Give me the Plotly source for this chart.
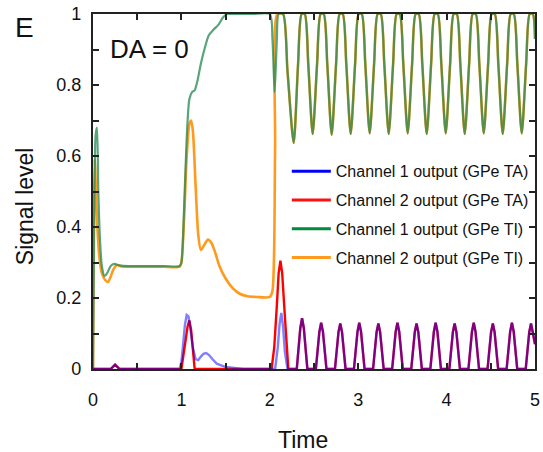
import plotly.graph_objects as go

# ---------------- data ----------------
# shared oscillation of the GPe TI outputs (t >= 2.27)
ti_osc_t = [2.27, 2.32, 2.36, 2.395, 2.435,
            2.485, 2.535, 2.575, 2.61, 2.65,
            2.70, 2.75, 2.79, 2.825, 2.865,
            2.915, 2.965, 3.005, 3.04, 3.08,
            3.13, 3.18, 3.22, 3.255, 3.295,
            3.345, 3.395, 3.435, 3.47, 3.51,
            3.56, 3.61, 3.65, 3.685, 3.725,
            3.775, 3.825, 3.865, 3.90, 3.94,
            3.99, 4.04, 4.08, 4.115, 4.155,
            4.205, 4.255, 4.295, 4.33, 4.37,
            4.42, 4.47, 4.51, 4.545, 4.585,
            4.635, 4.685, 4.725, 4.76, 4.80,
            4.85, 4.90, 4.94, 4.975, 5.0]
ti_osc_y = [0.637, 0.86, 1.0, 1.0, 0.86,
            0.662, 0.86, 1.0, 1.0, 0.86,
            0.660, 0.86, 1.0, 1.0, 0.86,
            0.662, 0.86, 1.0, 1.0, 0.86,
            0.664, 0.86, 1.0, 1.0, 0.86,
            0.662, 0.86, 1.0, 1.0, 0.86,
            0.664, 0.86, 1.0, 1.0, 0.86,
            0.662, 0.86, 1.0, 1.0, 0.86,
            0.664, 0.86, 1.0, 1.0, 0.86,
            0.662, 0.86, 1.0, 1.0, 0.86,
            0.664, 0.86, 1.0, 1.0, 0.86,
            0.662, 0.86, 1.0, 1.0, 0.86,
            0.664, 0.86, 1.0, 1.0, 0.93]

# Channel 1 output (GPe TI) before the oscillation
ti1_t = [0, 0.01, 0.03, 0.045, 0.06, 0.08, 0.1, 0.13, 0.16, 0.2, 0.24, 0.3, 0.4,
         0.6, 0.8, 0.98, 1.0, 1.03, 1.06, 1.09, 1.12, 1.15, 1.18, 1.22, 1.26,
         1.31, 1.36, 1.42, 1.47, 1.52, 1.6, 1.8, 2.0, 2.03, 2.055, 2.08, 2.1,
         2.15, 2.2]
ti1_y = [0, 0.3, 0.66, 0.68, 0.5, 0.36, 0.29, 0.262, 0.27, 0.29, 0.296, 0.292, 0.29,
         0.29, 0.29, 0.29, 0.3, 0.45, 0.65, 0.76, 0.78, 0.785, 0.81, 0.86, 0.9,
         0.94, 0.955, 0.97, 0.99, 1.0, 1.0, 1.0, 1.0, 0.93, 0.78, 0.93, 1.0,
         1.0, 0.84]

# Channel 2 output (GPe TI) before the oscillation
ti2_t = [0, 0.005, 0.02, 0.04, 0.07, 0.1, 0.14, 0.17, 0.2, 0.23, 0.27, 0.32, 0.4,
         0.6, 0.8, 0.98, 1.0, 1.03, 1.06, 1.09, 1.11, 1.13, 1.16, 1.19, 1.22,
         1.26, 1.3, 1.34, 1.38, 1.43, 1.5, 1.58, 1.66, 1.75, 1.85, 2.0, 2.03,
         2.06, 2.085, 2.15, 2.2]
ti2_y = [0, 0.3, 0.59, 0.45, 0.32, 0.27, 0.25, 0.245, 0.26, 0.28, 0.293, 0.289, 0.288,
         0.288, 0.288, 0.288, 0.3, 0.42, 0.6, 0.69, 0.70, 0.67, 0.52, 0.38, 0.335,
         0.35, 0.365, 0.355, 0.33, 0.29, 0.255, 0.228, 0.212, 0.205, 0.203, 0.203, 0.22,
         0.62, 1.0, 1.0, 0.84]

# shared pulse train of the GPe TA outputs (t >= 2.3)
ta_pulse_t = [2.305, 2.345, 2.365, 2.385, 2.425,
              2.521, 2.561, 2.581, 2.601, 2.641,
              2.737, 2.777, 2.797, 2.817, 2.857,
              2.952, 2.992, 3.012, 3.032, 3.072,
              3.168, 3.208, 3.228, 3.248, 3.288,
              3.384, 3.424, 3.444, 3.464, 3.504,
              3.600, 3.640, 3.660, 3.680, 3.720,
              3.816, 3.856, 3.876, 3.896, 3.936,
              4.031, 4.071, 4.091, 4.111, 4.151,
              4.247, 4.287, 4.307, 4.327, 4.367,
              4.463, 4.503, 4.523, 4.543, 4.583,
              4.679, 4.719, 4.739, 4.759, 4.799,
              4.895, 4.935, 4.955, 4.975, 5.0]
ta_pulse_y = [0, 0.115, 0.143, 0.115, 0,
              0, 0.105, 0.130, 0.105, 0,
              0, 0.104, 0.128, 0.104, 0,
              0, 0.105, 0.130, 0.105, 0,
              0, 0.104, 0.128, 0.104, 0,
              0, 0.105, 0.130, 0.105, 0,
              0, 0.104, 0.128, 0.104, 0,
              0, 0.105, 0.130, 0.105, 0,
              0, 0.104, 0.128, 0.104, 0,
              0, 0.105, 0.130, 0.105, 0,
              0, 0.104, 0.128, 0.104, 0,
              0, 0.105, 0.130, 0.105, 0,
              0, 0.104, 0.128, 0.104, 0.07]

# Channel 1 output (GPe TA) before the pulse train
ta1_t = [0, 0.2, 0.25, 0.3, 0.98, 1.0, 1.02, 1.04, 1.06, 1.08, 1.1, 1.13, 1.16,
         1.19, 1.22, 1.25, 1.28, 1.31, 1.35, 1.4, 1.45, 1.5, 1.6, 1.7, 2.06,
         2.09, 2.11, 2.13, 2.15, 2.17, 2.2]
ta1_y = [0, 0, 0.012, 0, 0, 0.02, 0.07, 0.125, 0.152, 0.148, 0.115, 0.06, 0.028,
         0.025, 0.035, 0.043, 0.045, 0.04, 0.028, 0.015, 0.01, 0.006, 0.003, 0, 0,
         0.06, 0.125, 0.158, 0.12, 0.05, 0]

# Channel 2 output (GPe TA) before the pulse train
ta2_t = [0, 0.2, 0.25, 0.3, 1.0, 1.02, 1.05, 1.07, 1.09, 1.11, 1.13, 1.15, 2.02,
         2.05, 2.08, 2.1, 2.12, 2.14, 2.17, 2.19, 2.21]
ta2_y = [0, 0, 0.012, 0, 0, 0.04, 0.085, 0.12, 0.137, 0.11, 0.05, 0, 0,
         0.06, 0.18, 0.27, 0.305, 0.27, 0.15, 0.06, 0]

legend_names = ["Channel 1 output (GPe TA)", "Channel 2 output (GPe TA)",
                "Channel 1 output (GPe TI)", "Channel 2 output (GPe TI)"]
legend_colors = ["#0000ff", "#ff1010", "#008a3c", "#ff9a1f"]

x_ticks = [0, 1, 2, 3, 4, 5]
y_ticks = [0, 0.2, 0.4, 0.6, 0.8, 1]

FONT = "Liberation Sans, Arial, sans-serif"

fig = go.Figure()

# data traces (drawing order: orange, green, red, blue)
fig.add_trace(go.Scatter(x=ti2_t + ti_osc_t, y=ti2_y + ti_osc_y, mode="lines",
                         line=dict(color="#ff9a1f", width=2.6, shape="spline", smoothing=0.7),
                         showlegend=False, hoverinfo="skip"))
fig.add_trace(go.Scatter(x=ti1_t + ti_osc_t, y=ti1_y + ti_osc_y, mode="lines",
                         line=dict(color="rgba(40,140,85,0.78)", width=2.2, shape="spline", smoothing=0.7),
                         showlegend=False, hoverinfo="skip"))
fig.add_trace(go.Scatter(x=ta2_t + ta_pulse_t, y=ta2_y + ta_pulse_y, mode="lines",
                         line=dict(color="#ff0000", width=2.4),
                         showlegend=False, hoverinfo="skip"))
fig.add_trace(go.Scatter(x=ta1_t + ta_pulse_t, y=ta1_y + ta_pulse_y, mode="lines",
                         line=dict(color="rgba(0,0,255,0.5)", width=2.4),
                         showlegend=False, hoverinfo="skip"))

# legend entries (solid colours as in the reference legend)
for i, (name, col) in enumerate(zip(legend_names, legend_colors)):
    fig.add_trace(go.Scatter(x=[None], y=[None], mode="lines", name=name,
                             legendgroup=f"g{i}",
                             line=dict(color=col, width=3)))

axis_common = dict(
    showline=True, linecolor="#222222", linewidth=2.2, mirror="allticks",
    ticks="inside", ticklen=6, tickwidth=2, tickcolor="#222222",
    showgrid=False, zeroline=False,
    tickfont=dict(family=FONT, size=18, color="#111111"),
)

fig.update_xaxes(range=[0, 5], tickvals=x_ticks, ticktext=[str(v) for v in x_ticks],
                 minor=dict(dtick=0.5, ticks="inside", ticklen=6, tickwidth=2,
                            tickcolor="#222222", showgrid=False),
                 ticklabelstandoff=13, ticklabeloverflow="allow", **axis_common)
fig.update_yaxes(range=[0, 1], tickvals=y_ticks, ticktext=["0", "0.2", "0.4", "0.6", "0.8", "1"],
                 minor=dict(dtick=0.1, ticks="inside", ticklen=6, tickwidth=2,
                            tickcolor="#222222", showgrid=False),
                 ticklabelstandoff=6, **axis_common)

fig.update_layout(
    width=543, height=452,
    margin=dict(l=93, r=3, t=14, b=83),
    paper_bgcolor="white", plot_bgcolor="white",
    font=dict(family=FONT, color="#111111"),
    showlegend=True,
    legend=dict(x=0.4385, y=0.605, xanchor="left", yanchor="top",
                bgcolor="rgba(0,0,0,0)", borderwidth=0,
                font=dict(family=FONT, size=16, color="#111111"),
                itemwidth=39, tracegroupgap=5, traceorder="grouped"),
    annotations=[
        dict(text="E", xref="paper", yref="paper", x=-0.154, y=0.963,
             xanchor="center", yanchor="middle", showarrow=False,
             font=dict(family=FONT, size=28, color="#111111")),
        dict(text="DA = 0", xref="paper", yref="paper", x=0.033, y=0.90,
             xanchor="left", yanchor="middle", showarrow=False,
             font=dict(family=FONT, size=26, color="#111111")),
        dict(text="Signal level", xref="paper", yref="paper", x=-0.155, y=0.46,
             xanchor="center", yanchor="middle", showarrow=False, textangle=-90,
             font=dict(family=FONT, size=23, color="#111111")),
        dict(text="Time", xref="paper", yref="paper", x=0.474, y=-0.20,
             xanchor="center", yanchor="middle", showarrow=False,
             font=dict(family=FONT, size=23, color="#111111")),
    ],
)

fig.write_html("out.html")
